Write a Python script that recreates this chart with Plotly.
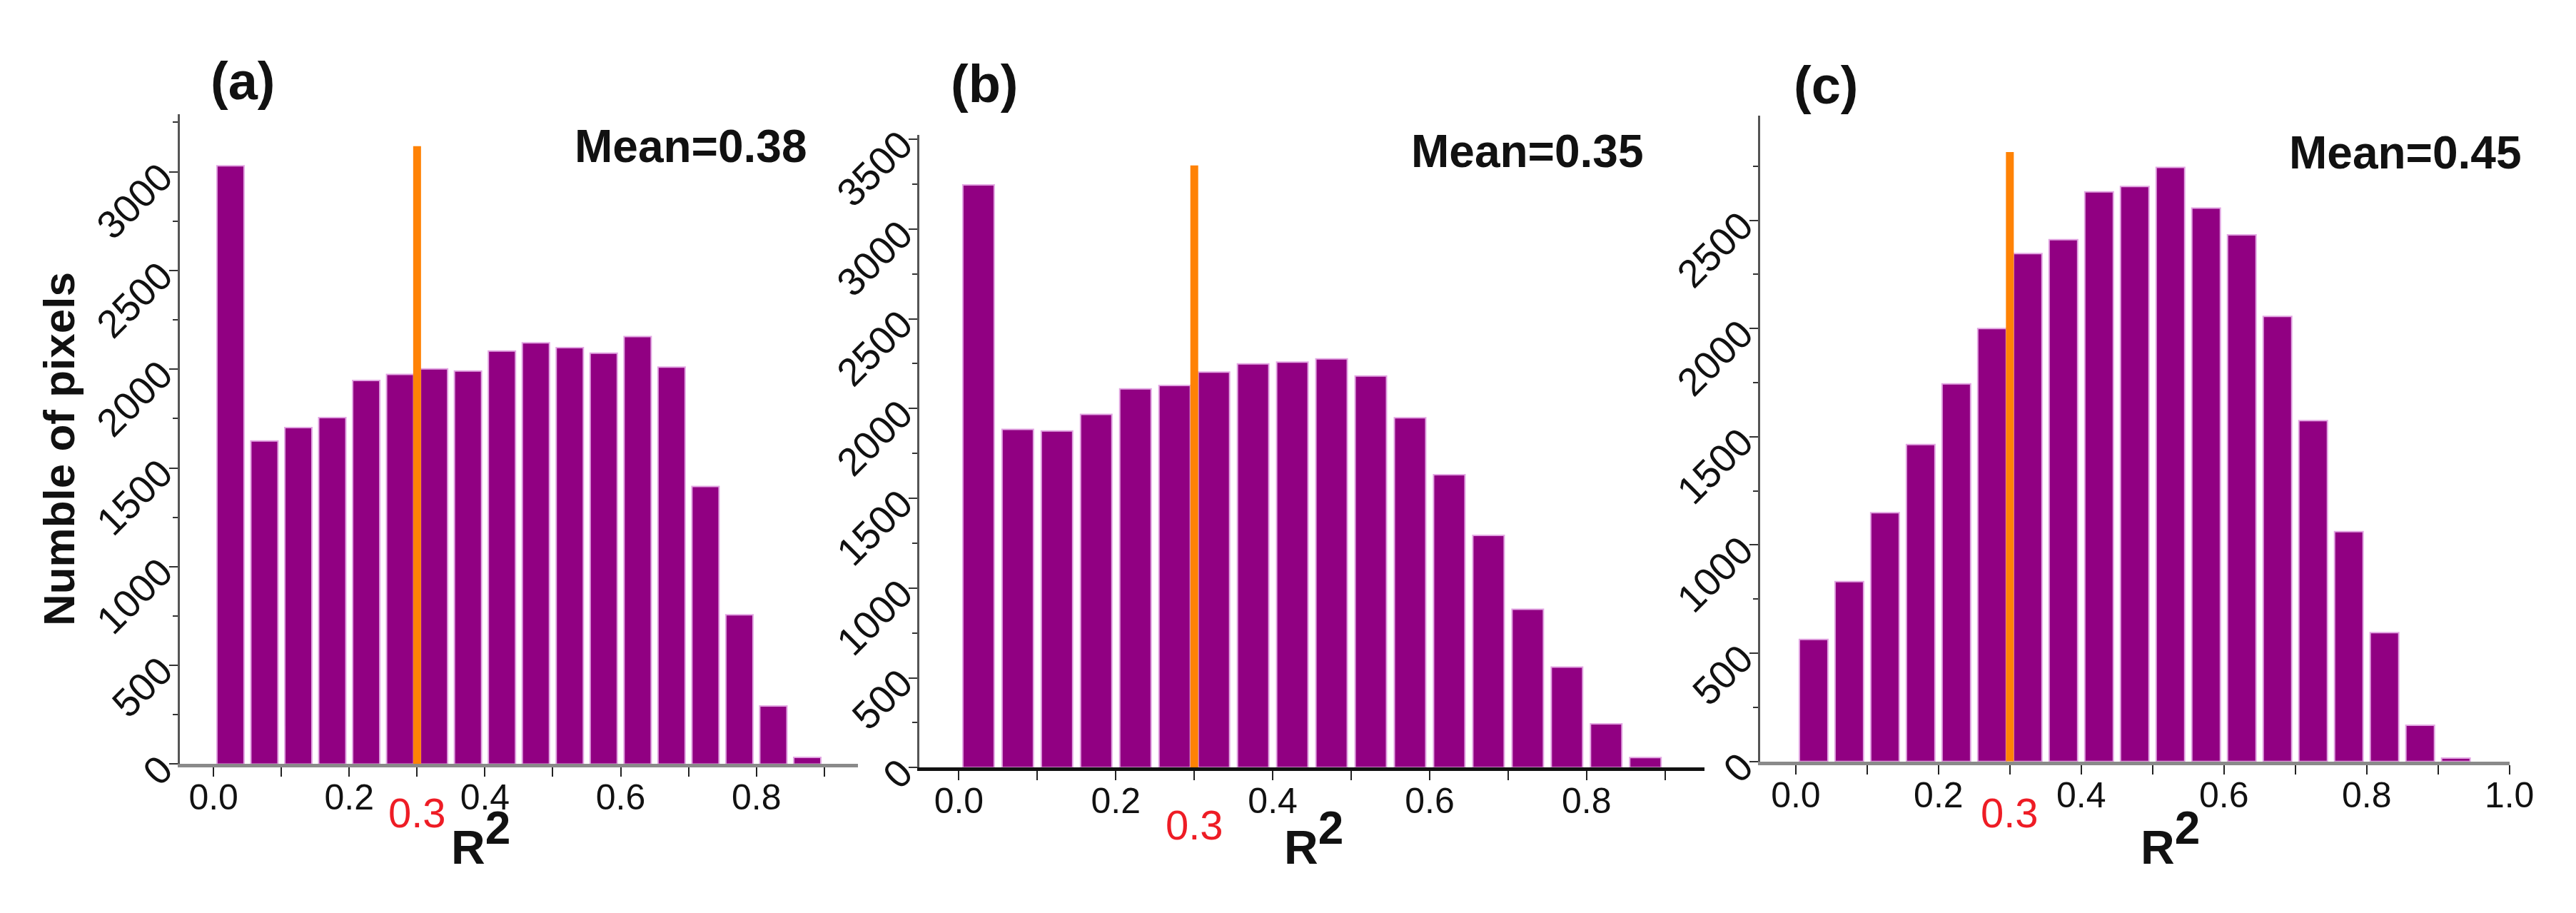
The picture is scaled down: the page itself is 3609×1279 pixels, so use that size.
import plotly.graph_objects as go

# ---------------- data ----------------
bins_ab = [0.025, 0.075, 0.125, 0.175, 0.225, 0.275, 0.325, 0.375, 0.425,
           0.475, 0.525, 0.575, 0.625, 0.675, 0.725, 0.775, 0.825, 0.875]
bins_c = [0.025, 0.075, 0.125, 0.175, 0.225, 0.275, 0.325, 0.375, 0.425,
          0.475, 0.525, 0.575, 0.625, 0.675, 0.725, 0.775, 0.825, 0.875, 0.925]

counts_a = [3030, 1637, 1704, 1755, 1943, 1974, 2002, 1991, 2092, 2134,
            2109, 2081, 2165, 2011, 1406, 756, 295, 34]
counts_b = [3246, 1884, 1875, 1968, 2110, 2129, 2203, 2249, 2259, 2277,
            2181, 1949, 1631, 1293, 882, 560, 244, 56]
counts_c = [564, 831, 1149, 1464, 1744, 2000, 2346, 2410, 2631, 2656,
            2744, 2556, 2433, 2056, 1574, 1062, 595, 167, 15]

panel_labels = ["(a)", "(b)", "(c)"]
mean_labels = ["Mean=0.38", "Mean=0.35", "Mean=0.45"]
threshold = 0.3
threshold_label = "0.3"
threshold_tops = [3130, 3354, 2815]
y_title = "Numble of pixels"
x_title = "R<sup><span style='font-size:64px'>2</span></sup>"

# ---------------- style ----------------
W, H = 3609, 1279
BAR = "#910082"
BAR_EDGE = "#E2A6E2"
ORANGE = "#FF8205"
RED = "#EE1C25"
FONT = "Liberation Sans, Arial, sans-serif"


def px_x(v):
    return v / W


def px_y(v):
    return 1 - v / H


panels = [
    dict(x=bins_ab, y=counts_a, xdom=[246, 1206], ydom=[1095, 140],
         xr=[-0.05, 0.95], yr=[0, 3293], xline="#8a8a8a",
         lab=(335, 92), mean=(969, 188), r2=(672, 1204), thr_y=1166),
    dict(x=bins_ab, y=counts_b, xdom=[1293, 2403], ydom=[1100, 171],
         xr=[-0.05, 0.95], yr=[0, 3524], xline="#111111",
         lab=(1385, 96), mean=(2153, 195), r2=(1850, 1204), thr_y=1184),
    dict(x=bins_c, y=counts_c, xdom=[2482, 3542], ydom=[1091, 143],
         xr=[-0.05, 1.0], yr=[0, 2982], xline="#8a8a8a",
         lab=(2575, 98), mean=(3395, 197), r2=(3062, 1204), thr_y=1166),
]

fig = go.Figure()
annotations = []
layout = dict(
    width=W, height=H,
    margin=dict(l=0, r=0, t=0, b=0),
    paper_bgcolor="white", plot_bgcolor="white",
    showlegend=False,
    font=dict(family=FONT, color="#111111"),
)

for i, p in enumerate(panels):
    n = "" if i == 0 else str(i + 1)
    xa, ya = "x" + n, "y" + n
    fig.add_trace(go.Bar(
        x=p["x"], y=p["y"], width=0.04, xaxis=xa, yaxis=ya,
        marker=dict(color=BAR, line=dict(color=BAR_EDGE, width=2)),
    ))
    fig.add_trace(go.Scatter(
        x=[threshold, threshold], y=[0, threshold_tops[i]], mode="lines",
        line=dict(color=ORANGE, width=11), xaxis=xa, yaxis=ya,
    ))
    layout["xaxis" + n] = dict(
        domain=[px_x(p["xdom"][0]), px_x(p["xdom"][1])],
        range=p["xr"], anchor=ya,
        showline=True, linecolor=p["xline"], linewidth=5,
        showgrid=False, zeroline=False,
        ticks="outside", ticklen=13, tickwidth=2, tickcolor="#222",
        tick0=0, dtick=0.2, tickformat=".1f", ticklabelstandoff=-14,
        tickfont=dict(size=50, color="#111", family=FONT),
        minor=dict(dtick=0.1, tick0=0, ticks="outside", ticklen=13,
                   tickwidth=2, tickcolor="#222", showgrid=False),
    )
    layout["yaxis" + n] = dict(
        domain=[px_y(p["ydom"][0]), px_y(p["ydom"][1])],
        range=p["yr"], anchor=xa,
        showline=True, linecolor="#555", linewidth=3,
        showgrid=False, zeroline=False,
        ticks="outside", ticklen=12, tickwidth=2, tickcolor="#333",
        tick0=0, dtick=500, tickangle=-45,
        tickfont=dict(size=55, color="#111", family=FONT),
        minor=dict(dtick=250, ticks="outside", ticklen=7, tickwidth=2,
                   tickcolor="#333", showgrid=False),
    )
    annotations.append(dict(
        text="<b>%s</b>" % panel_labels[i], xref="paper", yref="paper",
        x=px_x(p["lab"][0]), y=px_y(p["lab"][1]), showarrow=False,
        xanchor="center", yanchor="middle",
        font=dict(size=74, color="#111", family=FONT)))
    annotations.append(dict(
        text="<b>%s</b>" % mean_labels[i], xref="paper", yref="paper",
        x=px_x(p["mean"][0]), y=px_y(p["mean"][1]), showarrow=False,
        xanchor="center", yanchor="middle",
        font=dict(size=64, color="#111", family=FONT)))
    annotations.append(dict(
        text=threshold_label, xref=xa, yref="paper",
        x=threshold, y=px_y(p["thr_y"]), showarrow=False,
        xanchor="center", yanchor="middle",
        font=dict(size=58, color=RED, family=FONT)))
    annotations.append(dict(
        text="<b>%s</b>" % x_title, xref="paper", yref="paper",
        x=px_x(p["r2"][0]), y=px_y(p["r2"][1]), showarrow=False,
        xanchor="center", yanchor="middle",
        font=dict(size=66, color="#111", family=FONT)))

annotations.append(dict(
    text="<b>%s</b>" % y_title, xref="paper", yref="paper",
    x=px_x(76), y=px_y(632), showarrow=False, textangle=-90,
    xanchor="center", yanchor="middle",
    font=dict(size=62, color="#111", family=FONT)))

layout["annotations"] = annotations
fig.update_layout(**layout)
fig.write_html("out.html", config={"displayModeBar": False})
